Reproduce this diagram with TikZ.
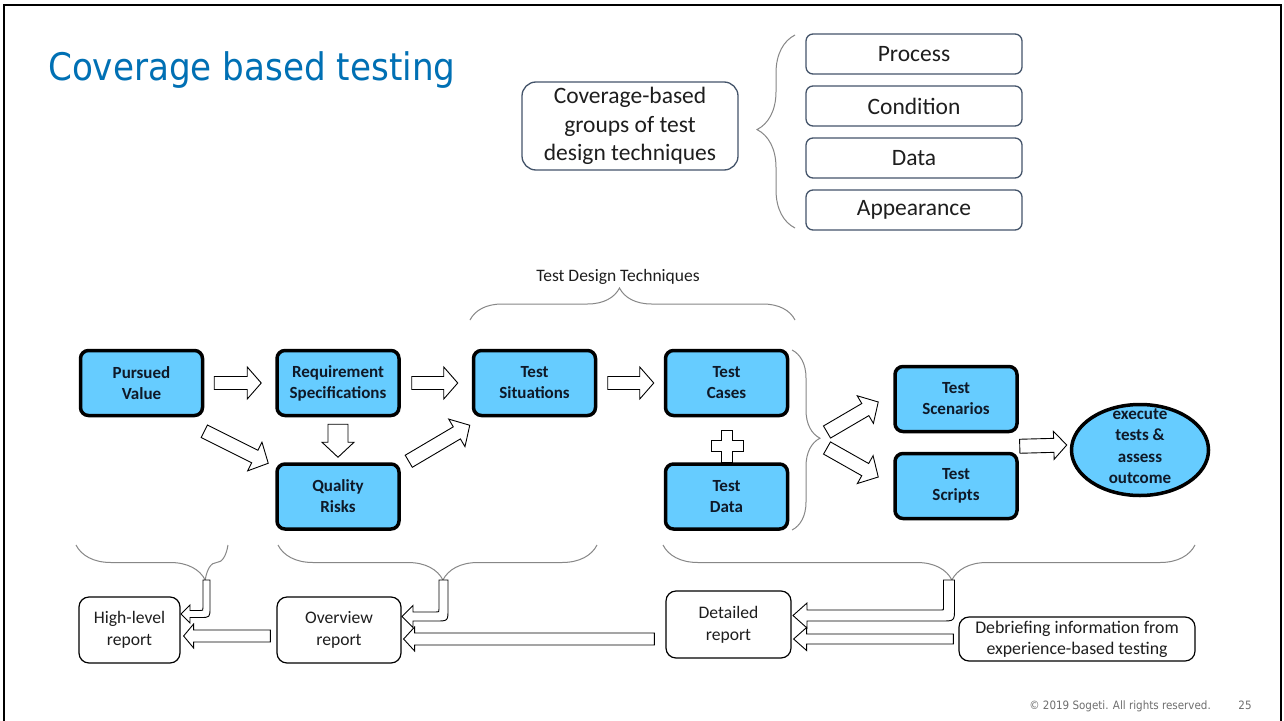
\documentclass[tikz,border=0pt]{standalone}
\usepackage{fontspec}
\setmainfont{Carlito}
\newfontfamily\titlefont{DejaVu Sans Condensed}
\usetikzlibrary{shapes.geometric,calc,decorations.pathreplacing}
\definecolor{skyb}{RGB}{102,204,255}
\definecolor{titleblue}{RGB}{0,112,180}
\definecolor{slate}{RGB}{68,84,106}
\definecolor{bracegray}{RGB}{135,135,135}
\definecolor{boxtext}{RGB}{15,25,40}
\definecolor{darktext}{RGB}{30,30,30}
\definecolor{footgray}{RGB}{110,110,110}
\tikzset{
  bluebox/.style={draw=black, line width=3.5pt, fill=skyb, rounded corners=8pt,
    minimum width=122pt, minimum height=65pt, inner sep=0pt, align=center, text=boxtext,
    font=\bfseries\fontsize{17}{21}\selectfont},
  boxtxt/.style={align=center, text=boxtext, inner sep=0pt, font=\bfseries\fontsize{17}{21.5}\selectfont},
  whitebox/.style={draw=black, line width=1.2pt, rounded corners=10pt, fill=white, align=center,
    inner sep=0pt, text=darktext, font=\fontsize{17.6}{22}\selectfont},
  groupbox/.style={draw=slate, line width=1.3pt, rounded corners=7pt, minimum width=216pt,
    minimum height=40pt, inner sep=0pt, text=darktext, font=\fontsize{23.5}{28}\selectfont},
  blockarr/.style={draw=black, line width=0.9pt, fill=white, line join=miter},
  bracestyle/.style={draw=bracegray, line width=1pt, decorate},
}
% straight block arrow: start, end, shaft half width, head half width, head length
\newcommand{\barrow}[5]{%
  \coordinate (bA) at #1; \coordinate (bB) at #2;
  \coordinate (bH) at ($(bB)!#5!(bA)$);
  \draw[blockarr] ($(bA)!#3!90:(bB)$) -- ($(bH)!#3!90:(bB)$) -- ($(bH)!#4!90:(bB)$) -- (bB)
    -- ($(bH)!#4!-90:(bB)$) -- ($(bH)!#3!-90:(bB)$) -- ($(bA)!#3!-90:(bB)$) -- cycle;}
% bent block arrow: cx, top y, cy, shaft half width, tip x, head half width, head length, outer radius
\newcommand{\bentarr}[8]{%
  \draw[blockarr] (#1-#4,#2) -- (#1+#4,#2) -- (#1+#4,#3+#4-#8) .. controls (#1+#4,#3+#4) .. (#1+#4-#8,#3+#4)
    -- (#5+#7,#3+#4) -- (#5+#7,#3+#6) -- (#5,#3) -- (#5+#7,#3-#6) -- (#5+#7,#3-#4)
    -- (#1+#4-#8,#3-#4) .. controls (#1-#4,#3-#4) .. (#1-#4,#3+#4-#8) -- cycle;}
\begin{document}
\begin{tikzpicture}[x=1pt,y=-1pt]
\useasboundingbox (0,0) rectangle (1284,720);
\fill[white] (0,0) rectangle (1284,720);
\draw[line width=2.6pt] (4,725) -- (4,5) -- (1281,5) -- (1281,725);

% title
\node[anchor=base west, inner sep=0pt, text=titleblue, font=\titlefont\fontsize{38}{40}\selectfont] (title) at (48,80) {Coverage based testing};

% coverage groups
\node[draw=slate, line width=1.3pt, rounded corners=14pt, minimum width=216pt, minimum height=88pt,
  inner sep=0pt, align=center, text=darktext, font=\fontsize{23.5}{28.5}\selectfont] (cov) at (630,126)
  {Coverage-based\\groups of test\\design techniques};
\node[groupbox] (proc) at (914,54) {Process};
\node[groupbox] (cond) at (914,106) {Condition};
\node[groupbox] (data) at (914,158) {Data};
\node[groupbox] (app) at (914,210) {Appearance};
\draw[bracestyle, decoration={brace, amplitude=38pt, aspect=0.51}] (795,228) -- (795,35);

% test design techniques
\node[text=darktext, font=\fontsize{17.5}{20}\selectfont] (tdt) at (618,277) {Test Design Techniques};
\draw[bracestyle, decoration={brace, amplitude=32pt, aspect=0.46}] (470,320) -- (795,320);

% blue boxes
\node[bluebox] (pv) at (141.5,383) {Pursued\\Value};
\node[bluebox] (rs) at (338,383) {Requirement\\Specifications};
\node[bluebox] (ts) at (534.5,383) {Test\\Situations};
\node[bluebox] (qr) at (338,496.5) {Quality\\Risks};
\node[bluebox] (tc) at (726.5,383) {Test\\Cases};
\node[bluebox] (td) at (726.5,496.5) {Test\\Data};
\node[bluebox] (tsc) at (956,399) {Test\\Scenarios};
\node[bluebox] (tsp) at (956,486) {Test\\Scripts};
\node[draw=black, line width=3.5pt, fill=skyb, ellipse, minimum width=137pt, minimum height=91pt, inner sep=0pt] (ex) at (1140,450) {};
\node[boxtxt] (extext) at (1140,446) {execute\\tests \&\\assess\\outcome};

% block arrows in the middle row
\barrow{($(pv.east)+(10,0)$)}{($(rs.west)+(-14,0)$)}{6.5pt}{16pt}{14pt}
\barrow{($(rs.east)+(11,0)$)}{($(ts.west)+(-14,0)$)}{6.5pt}{16pt}{14pt}
\barrow{($(ts.east)+(10.5,0)$)}{($(tc.west)+(-10,0)$)}{6.5pt}{16pt}{14pt}
\barrow{($(rs.south)+(0,7)$)}{($(qr.north)+(0,-5)$)}{10pt}{16pt}{15pt}
\barrow{($(pv.south east)+(0,14)$)}{($(qr.north west)+(-7,1)$)}{7pt}{16pt}{15pt}
\barrow{($(qr.north east)+(8,-1)$)}{($(ts.south west)+(-2,8)$)}{7pt}{16pt}{15pt}

% plus sign
\draw[blockarr] (721.5,430) -- (732.5,430) -- (732.5,440.5) -- (743,440.5) -- (743,451.5) -- (732.5,451.5)
  -- (732.5,462) -- (721.5,462) -- (721.5,451.5) -- (711,451.5) -- (711,440.5) -- (721.5,440.5) -- cycle;

% brace beside test cases / data
\draw[bracestyle, decoration={brace, amplitude=28pt, aspect=0.49}] (792,350) -- (792,530);
\coordinate (bt4) at (820,438);
\barrow{($(bt4)+(7,-6)$)}{($(tsc.west)+(-15,3)$)}{7pt}{16pt}{15pt}
\barrow{($(bt4)+(7,10)$)}{($(tsp.west)+(-15,-9)$)}{7pt}{16pt}{15pt}
\barrow{($(tsc.south east)+(1,13)$)}{($(ex.west)+(-3,-5)$)}{7pt}{14pt}{13pt}

% bottom braces
\draw[bracestyle, decoration={brace, amplitude=35pt, aspect=0.85, mirror}] (76,545) -- (228,545);
\draw[bracestyle, decoration={brace, amplitude=35pt, aspect=0.517, mirror}] (278,545) -- (597,545);
\draw[bracestyle, decoration={brace, amplitude=35pt, aspect=0.543, mirror}] (663,545) -- (1195,545);

% report boxes
\node[whitebox, minimum width=101pt, minimum height=66pt] (hl) at (129.5,630) {High-level\\report};
\node[whitebox, minimum width=124pt, minimum height=66pt] (ov) at (339,630) {Overview\\report};
\node[whitebox, minimum width=125pt, minimum height=67pt] (dt) at (728.5,624.5) {Detailed\\report};
\node[whitebox, minimum width=236pt, minimum height=44pt, font=\fontsize{17.8}{21}\selectfont] (db) at (1077,639) {Debriefing information from\\experience-based testing};

% bent arrows from braces
\bentarr{206.5}{580}{614}{3.5}{181}{9}{9}{10}
\bentarr{443.5}{580}{616.5}{4.5}{402}{11}{11}{12}
\bentarr{949}{580}{615.5}{5.5}{793}{12.5}{14}{13}

% straight arrows between reports
\barrow{($(ov.west)+(-6,6)$)}{($(hl.east)+(3,6)$)}{6pt}{12pt}{10pt}
\barrow{($(dt.west)+(-11,14.5)$)}{($(ov.east)+(2,9)$)}{6pt}{12pt}{11pt}
\barrow{($(db.west)+(-5,0)$)}{($(dt.east)+(2,14.5)$)}{5pt}{11.5pt}{13pt}

% footer
\node[anchor=base east, inner sep=0pt, text=footgray, font=\titlefont\fontsize{11.5}{13}\selectfont] (copy) at (1211,709) {© 2019 Sogeti. All rights reserved.};
\node[anchor=base, inner sep=0pt, text=footgray, font=\titlefont\fontsize{11.5}{13}\selectfont] (page) at (1245,709) {25};
\end{tikzpicture}
\end{document}
